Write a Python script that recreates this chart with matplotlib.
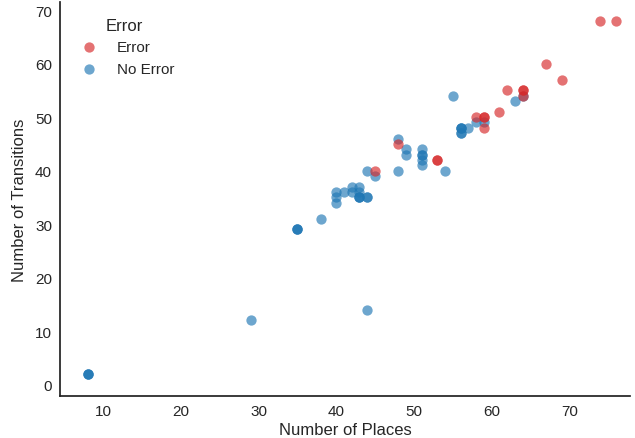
import matplotlib
matplotlib.use('Agg')
import matplotlib.pyplot as plt
import seaborn as sns

# points (places, transitions)
err_places = [45, 48, 53, 53, 58, 59, 59, 59, 61, 62, 64, 64, 64, 67, 69, 74, 76]
err_trans = [40, 45, 42, 42, 50, 50, 50, 48, 51, 55, 55, 55, 54, 60, 57, 68, 68]

ok_places = [8, 8, 8, 29, 44, 35, 35, 35, 38, 40, 40, 40, 41, 42, 42, 43, 43,
             43, 43, 43, 44, 44, 44, 45, 48, 48, 49, 49, 51, 51, 51, 51, 51,
             54, 55, 56, 56, 56, 56, 56, 57, 58, 59, 63, 64]
ok_trans = [2, 2, 2, 12, 14, 29, 29, 29, 31, 34, 35, 36, 36, 36, 37, 37, 36,
            35, 35, 35, 35, 35, 40, 39, 40, 46, 44, 43, 44, 43, 43, 42, 41,
            40, 54, 48, 48, 48, 47, 47, 48, 49, 49, 53, 54]

sns.set_theme(style='white')
plt.rcParams['font.family'] = ['Liberation Sans', 'DejaVu Sans']

fig, ax = plt.subplots(figsize=(6.35, 4.39), dpi=100)
ax.scatter(ok_places, ok_trans, s=55, color='#1f77b4', alpha=0.65,
           linewidths=0, label='No Error', zorder=2)
ax.scatter(err_places, err_trans, s=55, color='#d62728', alpha=0.65,
           linewidths=0, label='Error', zorder=3)

ax.set_xlim(4.5, 77.8)
ax.set_ylim(-2.1, 71.5)
ax.set_xticks([10, 20, 30, 40, 50, 60, 70])
ax.set_yticks([0, 10, 20, 30, 40, 50, 60, 70])
ax.set_xlabel('Number of Places', fontsize=12, labelpad=3)
ax.set_ylabel('Number of Transitions', fontsize=12, labelpad=6)
ax.tick_params(labelsize=11, length=0, pad=6)
sns.despine(ax=ax)
for s in ('left', 'bottom'):
    ax.spines[s].set_color('#222222')

h, l = ax.get_legend_handles_labels()
ax.legend(h[::-1], l[::-1], title='Error', loc='upper left', frameon=False,
          fontsize=11, title_fontsize=12, bbox_to_anchor=(0.0, 0.994),
          labelspacing=0.47, handletextpad=0.8)

fig.subplots_adjust(left=0.095, right=0.992, bottom=0.096, top=0.993)
fig.savefig('out.png', dpi=100, facecolor='white')
